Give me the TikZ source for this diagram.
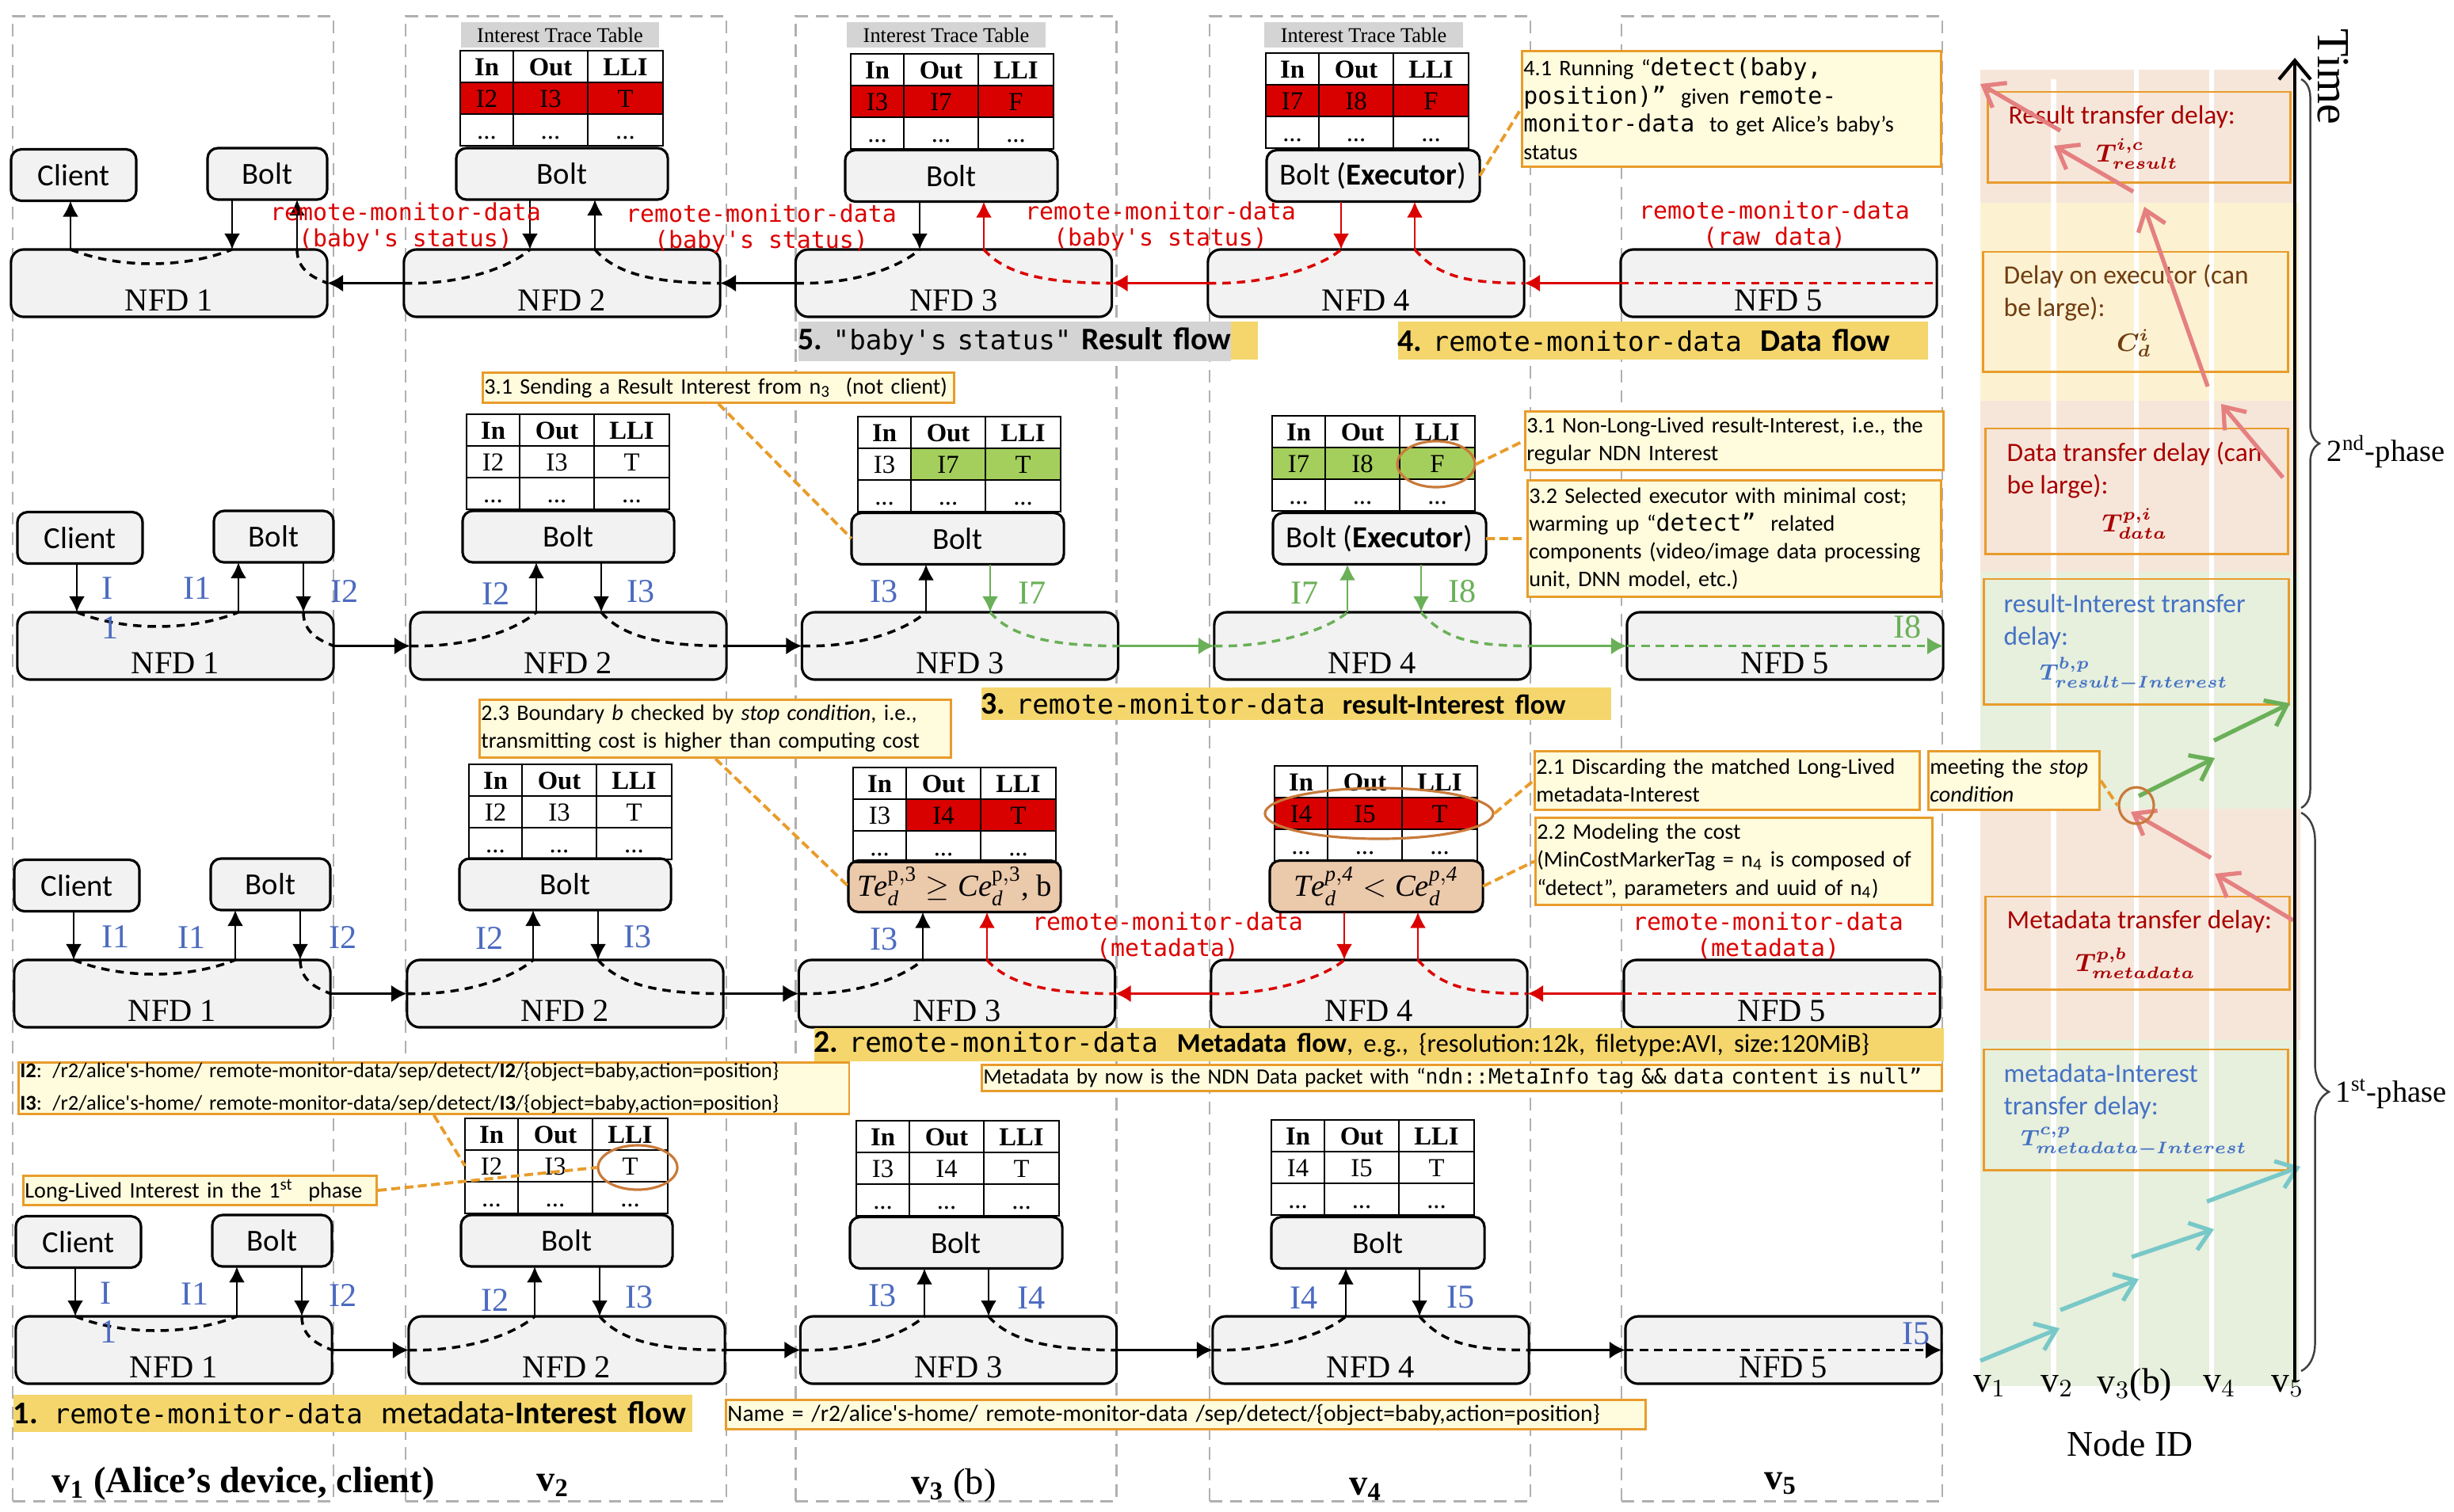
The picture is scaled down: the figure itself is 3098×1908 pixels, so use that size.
\documentclass[tikz,border=0pt]{standalone}
\usepackage{amsmath}
\usepackage{fontspec}
\setmainfont{Liberation Serif}
\setmonofont{DejaVu Sans Mono}
\newfontfamily\calfont{Carlito}
\usetikzlibrary{arrows.meta,shapes.geometric,decorations.pathreplacing}

\definecolor{colgray}{HTML}{B0B0B0}
\definecolor{boxfill}{HTML}{F2F2F2}
\definecolor{notefill}{HTML}{FFFBDD}
\definecolor{noteline}{HTML}{E89C2B}
\definecolor{banner}{HTML}{F4D66C}
\definecolor{grayband}{HTML}{D4D4D4}
\definecolor{cellred}{HTML}{D90000}
\definecolor{cellgreen}{HTML}{A5CF5D}
\definecolor{costbox}{HTML}{EBC9AB}
\definecolor{linkred}{HTML}{DB0000}
\definecolor{linkgreen}{HTML}{6AB058}
\definecolor{labelblue}{HTML}{4C6BC0}
\definecolor{ringline}{HTML}{C87A3A}
\definecolor{bandpink}{HTML}{F6E6DA}
\definecolor{bandyellow}{HTML}{FCF2D2}
\definecolor{bandgreen}{HTML}{E7EFDD}
\definecolor{arrowpink}{HTML}{E58080}
\definecolor{arrowteal}{HTML}{78C8C8}
\definecolor{delayred}{HTML}{A80000}
\definecolor{delaybrown}{HTML}{6F3D12}
\definecolor{delayblue}{HTML}{4472C4}

\newcommand{\bannermono}{\ttfamily\mdseries\fontsize{9.7}{11}\selectfont}
\newcommand{\notemono}{\ttfamily\fontsize{8.5}{10}\selectfont}

\tikzset{
	colbox/.style={draw=colgray,line width=.7pt,dash pattern=on 4.5pt off 2.8pt,minimum width=4.05cm,minimum height=18.74cm},
	nfdbox/.style={draw,fill=boxfill,line width=.9pt,rounded corners=1.6mm,minimum width=3.99cm,minimum height=.85cm,outer sep=0pt},
	nfdtext/.style={font=\fontsize{11.5}{12}\selectfont,yshift=-2.2mm},
	boltbox/.style={draw,fill=boxfill,line width=.9pt,rounded corners=1.3mm,minimum height=.65cm,outer sep=0pt,inner sep=0pt,font=\calfont\fontsize{11}{12}\selectfont},
	costcell/.style={fill=costbox,font=\rmfamily\fontsize{11}{12}\selectfont},
	tcell/.style={draw,line width=.5pt,minimum height=.4cm,inner sep=0pt,text height=.23cm,text depth=0pt,outer sep=0pt,font=\fontsize{9.3}{10}\selectfont},
	ittcaption/.style={fill=grayband,minimum width=2.5cm,minimum height=.32cm,inner sep=0pt,font=\fontsize{7.5}{8}\selectfont},
	vlink/.style={line width=.8pt},
	godown/.style={-{Latex[length=2mm,width=2mm]}},
	goup/.style={{Latex[length=2mm,width=2mm]}-},
	hlink/.style={line width=1.1pt,-{Latex[length=2mm,width=2.2mm]}},
	hopdash/.style={line width=1pt,dash pattern=on 3pt off 2.2pt},
	ilabel/.style={text=labelblue,inner sep=0pt,font=\fontsize{12}{13}\selectfont},
	glabel/.style={text=linkgreen,inner sep=0pt,font=\fontsize{12}{13}\selectfont},
	redmono/.style={text=linkred,inner sep=0pt,align=center,font=\ttfamily\fontsize{8.5}{9.4}\selectfont},
	note/.style={draw=noteline,fill=notefill,line width=.8pt,anchor=north west,inner sep=0pt,inner xsep=.2mm,align=left,font=\calfont\fontsize{8}{10}\selectfont},
	notesize/.style 2 args={minimum width=#1cm,minimum height=#2cm,text width=#1cm-.4mm},
	noteconn/.style={draw=noteline,line width=1.1pt,dash pattern=on 3.2pt off 1.6pt},
	ring/.style={draw=ringline,line width=.9pt,ellipse,inner sep=0pt},
	bannerbox/.style={fill=banner,anchor=north west,inner sep=0pt,align=left,font=\calfont\bfseries\fontsize{11.3}{12}\selectfont},
	bannersize/.style 2 args={minimum width=#1cm,minimum height=#2cm,text width=#1cm},
	delaybox/.style={draw=noteline,line width=.7pt,anchor=north west},
	delaytext/.style={anchor=west,inner sep=0pt,align=left,font=\calfont\fontsize{9.5}{11.7}\selectfont},
	delayform/.style={inner sep=0pt,font=\fontsize{9}{10}\selectfont},
	panelarrow/.style={line width=1.5pt,-{Straight Barb[length=2.4mm,width=3.6mm]}},
	axislabel/.style={inner sep=0pt,font=\fontsize{13}{14}\selectfont},
	collabel/.style={inner sep=0pt,font=\bfseries\fontsize{13.2}{14}\selectfont},
	phasebrace/.style={draw=black!75,line width=.7pt,decorate},
}

% one table: name, corner, three entries, three fills
\newcommand{\ittable}[9]{
	\begin{scope}[shift={(#2,#3)},name prefix=#1-]
		\node[tcell,minimum width=.67cm,font=\bfseries\fontsize{9.3}{10}\selectfont] (in) at (33.5,20) {In};
		\node[tcell,minimum width=.94cm,font=\bfseries\fontsize{9.3}{10}\selectfont] (out) at (114,20) {Out};
		\node[tcell,minimum width=.95cm,font=\bfseries\fontsize{9.3}{10}\selectfont] (lli) at (208.5,20) {LLI};
		\node[tcell,minimum width=.67cm,fill=#7] (a) at (33.5,60) {#4};
		\node[tcell,minimum width=.94cm,fill=#8] (b) at (114,60) {#5};
		\node[tcell,minimum width=.95cm,fill=#9] (c) at (208.5,60) {#6};
		\node[tcell,minimum width=.67cm] (da) at (33.5,100) {...};
		\node[tcell,minimum width=.94cm] (db) at (114,100) {...};
		\node[tcell,minimum width=.95cm] (dc) at (208.5,100) {...};
	\end{scope}
}

% one row of boxes, the links of the row come in as last argument
\newcommand{\flowrow}[8]{
	\begin{scope}[shift={(#2,#3)},name prefix=#1-]
		\coordinate (a1) at (89,0);
		\coordinate (a2) at (293,0);
		\coordinate (a3) at (375,0);
		\coordinate (b1) at (669,0);
		\coordinate (b2) at (751,0);
		\coordinate (c1) at (1161,0);
		\coordinate (c2) at (1242,0);
		\coordinate (d1) at (1693,0);
		\coordinate (d2) at (1786,0);
		\node[nfdbox,label={[nfdtext]center:NFD 1}] (nfd1) at (213.5,357.5) {};
		\node[nfdbox,label={[nfdtext]center:NFD 2}] (nfd2) at (709.5,357.5) {};
		\node[nfdbox,label={[nfdtext]center:NFD 3}] (nfd3) at (1204,357.5) {};
		\node[nfdbox,label={[nfdtext]center:NFD 4}] (nfd4) at (1724.5,357.5) {};
		\node[nfdbox,label={[nfdtext]center:NFD 5}] (nfd5) at (2245.5,357.5) {};
		\node[boltbox,minimum width=1.58cm] (client) at (93,221) {Client};
		\node[boltbox,minimum width=1.51cm] (bolt1) at (337.5,219.5) {Bolt};
		\node[boltbox,minimum width=2.67cm] (bolt2) at (709.5,219.5) {Bolt};
		\node[boltbox,minimum width=2.68cm,#4] (bolt3) at (1201,222) {#5};
		\node[boltbox,minimum width=2.69cm,#6] (bolt4) at (1733.5,222) {#7};
		#8
	\end{scope}
}
\newcommand{\vlinkto}[4]{\draw[vlink,#1] (#2.south -| #4) -- (#3.north -| #4);}
\newcommand{\curvein}[3]{\draw[hopdash,#1] (#2.west) .. controls +(75,2) and +(-25,22) .. (#2.north -| #3);}
\newcommand{\curveout}[3]{\draw[hopdash,#1] (#2.north -| #3) .. controls +(30,35) and +(-70,0) .. (#2.east);}
\newcommand{\curvesleft}{
	\draw[hopdash] (nfd1.north -| a1) .. controls +(60,24) and +(-60,24) .. (nfd1.north -| a2);
	\draw[hopdash] (nfd1.north -| a3) .. controls +(0,28) and +(-14,-6) .. (nfd1.east);
	\curvein{black}{nfd2}{b1}
	\curveout{black}{nfd2}{b2}
	\curvein{black}{nfd3}{c1}
}

\begin{document}
\begin{tikzpicture}[x=0.01cm,y=-0.01cm]
	\useasboundingbox (0,0) rectangle (3098,1908);

	% node columns
	\node[colbox] (col1) at (218.5,958) {};
	\node[colbox] (col2) at (714.5,958) {};
	\node[colbox] (col3) at (1207,958) {};
	\node[colbox] (col4) at (1729.5,958) {};
	\node[colbox] (col5) at (2249.5,958) {};

	% result flow
	\flowrow{r5}{0}{0}{}{Bolt}{}{Bolt (\textbf{Executor})}{
		\vlinkto{goup}{client}{nfd1}{a1}
		\vlinkto{godown}{bolt1}{nfd1}{a2}
		\vlinkto{goup}{bolt1}{nfd1}{a3}
		\vlinkto{godown}{bolt2}{nfd2}{b1}
		\vlinkto{goup}{bolt2}{nfd2}{b2}
		\vlinkto{godown}{bolt3}{nfd3}{c1}
		\vlinkto{goup,linkred}{bolt3}{nfd3}{c2}
		\vlinkto{godown,linkred}{bolt4}{nfd4}{d1}
		\vlinkto{goup,linkred}{bolt4}{nfd4}{d2}
		\curvesleft
		\curveout{linkred}{nfd3}{c2}
		\curvein{linkred}{nfd4}{d1}
		\curveout{linkred}{nfd4}{d2}
		\draw[hopdash,linkred] (nfd5.west) -- (nfd5.east);
		\draw[hlink] (nfd2.west) -- (nfd1.east);
		\draw[hlink] (nfd3.west) -- (nfd2.east);
		\draw[hlink,linkred] (nfd4.west) -- (nfd3.east);
		\draw[hlink,linkred] (nfd5.west) -- (nfd4.east);
	}
	% result interest flow
	\flowrow{r4}{8}{458}{}{Bolt}{}{Bolt (\textbf{Executor})}{
		\vlinkto{godown}{client}{nfd1}{a1}
		\vlinkto{goup}{bolt1}{nfd1}{a2}
		\vlinkto{godown}{bolt1}{nfd1}{a3}
		\vlinkto{goup}{bolt2}{nfd2}{b1}
		\vlinkto{godown}{bolt2}{nfd2}{b2}
		\vlinkto{goup}{bolt3}{nfd3}{c1}
		\vlinkto{godown,linkgreen}{bolt3}{nfd3}{c2}
		\vlinkto{goup,linkgreen}{bolt4}{nfd4}{d1}
		\vlinkto{godown,linkgreen}{bolt4}{nfd4}{d2}
		\curvesleft
		\curveout{linkgreen}{nfd3}{c2}
		\curvein{linkgreen}{nfd4}{d1}
		\curveout{linkgreen}{nfd4}{d2}
		\draw[hopdash,linkgreen,-{Latex[length=2mm,width=2.2mm]}] (nfd5.west) -- (nfd5.east);
		\draw[hlink] (nfd1.east) -- (nfd2.west);
		\draw[hlink] (nfd2.east) -- (nfd3.west);
		\draw[hlink,linkgreen] (nfd3.east) -- (nfd4.west);
		\draw[hlink,linkgreen] (nfd4.east) -- (nfd5.west);
	}
	% metadata flow
	\flowrow{r3}{4}{897}{costcell}{$\mathit{Te}_{\mathit{d}}^{\mathrm{p,3}}\geq\mathit{Ce}_{\mathit{d}}^{\mathrm{p,3}}$, b}{costcell}{$\mathit{Te}_{\mathit{d}}^{\mathit{p,4}}<\mathit{Ce}_{\mathit{d}}^{\mathit{p,4}}$}{
		\vlinkto{godown}{client}{nfd1}{a1}
		\vlinkto{goup}{bolt1}{nfd1}{a2}
		\vlinkto{godown}{bolt1}{nfd1}{a3}
		\vlinkto{goup}{bolt2}{nfd2}{b1}
		\vlinkto{godown}{bolt2}{nfd2}{b2}
		\vlinkto{goup}{bolt3}{nfd3}{c1}
		\vlinkto{goup,linkred}{bolt3}{nfd3}{c2}
		\vlinkto{godown,linkred}{bolt4}{nfd4}{d1}
		\vlinkto{goup,linkred}{bolt4}{nfd4}{d2}
		\curvesleft
		\curveout{linkred}{nfd3}{c2}
		\curvein{linkred}{nfd4}{d1}
		\curveout{linkred}{nfd4}{d2}
		\draw[hopdash,linkred] (nfd5.west) -- (nfd5.east);
		\draw[hlink] (nfd1.east) -- (nfd2.west);
		\draw[hlink] (nfd2.east) -- (nfd3.west);
		\draw[hlink,linkred] (nfd4.west) -- (nfd3.east);
		\draw[hlink,linkred] (nfd5.west) -- (nfd4.east);
	}
	% metadata interest flow
	\flowrow{r1}{6}{1347}{}{Bolt}{}{Bolt}{
		\vlinkto{godown}{client}{nfd1}{a1}
		\vlinkto{goup}{bolt1}{nfd1}{a2}
		\vlinkto{godown}{bolt1}{nfd1}{a3}
		\vlinkto{goup}{bolt2}{nfd2}{b1}
		\vlinkto{godown}{bolt2}{nfd2}{b2}
		\vlinkto{goup}{bolt3}{nfd3}{c1}
		\vlinkto{godown}{bolt3}{nfd3}{c2}
		\vlinkto{goup}{bolt4}{nfd4}{d1}
		\vlinkto{godown}{bolt4}{nfd4}{d2}
		\curvesleft
		\curveout{black}{nfd3}{c2}
		\curvein{black}{nfd4}{d1}
		\curveout{black}{nfd4}{d2}
		\draw[hopdash,-{Latex[length=2mm,width=2.2mm]}] (nfd5.west) -- (nfd5.east);
		\draw[hlink] (nfd1.east) -- (nfd2.west);
		\draw[hlink] (nfd2.east) -- (nfd3.west);
		\draw[hlink] (nfd3.east) -- (nfd4.west);
		\draw[hlink] (nfd4.east) -- (nfd5.west);
	}

	% tables
	\node[ittcaption] (cap2) at (707,44) {Interest Trace Table};
	\node[ittcaption] (cap3) at (1194.5,44) {Interest Trace Table};
	\node[ittcaption] (cap4) at (1721.5,44) {Interest Trace Table};
	\ittable{t52}{581}{64}{I2}{I3}{T}{cellred}{cellred}{cellred}
	\ittable{t53}{1074}{68}{I3}{I7}{F}{cellred}{cellred}{cellred}
	\ittable{t54}{1598}{67}{I7}{I8}{F}{cellred}{cellred}{cellred}
	\ittable{t42}{589}{523}{I2}{I3}{T}{white}{white}{white}
	\ittable{t43}{1083}{526}{I3}{I7}{T}{white}{cellgreen}{cellgreen}
	\ittable{t44}{1606}{525}{I7}{I8}{F}{cellgreen}{cellgreen}{cellgreen}
	\ittable{t32}{592}{965}{I2}{I3}{T}{white}{white}{white}
	\ittable{t33}{1077}{969}{I3}{I4}{T}{white}{cellred}{cellred}
	\ittable{t34}{1609}{967}{I4}{I5}{T}{cellred}{cellred}{cellred}
	\ittable{t12}{587}{1412}{I2}{I3}{T}{white}{white}{white}
	\ittable{t13}{1081}{1415}{I3}{I4}{T}{white}{white}{white}
	\ittable{t14}{1605}{1414}{I4}{I5}{T}{white}{white}{white}

	% interest names next to the links
	\foreach \x/\y/\t in {136/743/I,139/793/1,249/743/I1,435/747/I2,626/750/I2,809/747/I3,1116/747/I3,146/1183/I1,242/1184/I1,433/1183/I2,618/1184/I2,805/1183/I3,1116/1186/I3,134/1633/I,137/1682/1,246/1634/I1,433/1635/I2,625/1641/I2,807/1638/I3,1114/1636/I3,1302/1639/I4,1646/1639/I4,1844/1638/I5,2419/1684/I5}
		\node[ilabel] (lab\x-\y) at (\x,\y) {\t};
	\foreach \x/\y/\t in {1303/749/I7,1647/749/I7,1846/747/I8,2408/792/I8}
		\node[glabel] (lab\x-\y) at (\x,\y) {\t};
	\node[redmono] (rd1) at (512,287) {remote-monitor-data\\(baby's status)};
	\node[redmono] (rd2) at (961,289) {remote-monitor-data\\(baby's status)};
	\node[redmono] (rd3) at (1465,286) {remote-monitor-data\\(baby's status)};
	\node[redmono] (rd4) at (2240,284) {remote-monitor-data\\(raw data)};
	\node[redmono] (rd5) at (1474,1182) {remote-monitor-data\\(metadata)};
	\node[redmono] (rd6) at (2232,1182) {remote-monitor-data\\(metadata)};

	% flow banners
	\node[bannerbox,bannersize={5.8}{.48}] (ban5b) at (1007,405) {};
	\node[bannerbox,fill=grayband,bannersize={5.46}{.5}] (ban5) at (1007,405) {\mbox{5.\ {\bannermono "baby's status"} Result flow}};
	\node[bannerbox,bannersize={6.69}{.48}] (ban4) at (1764,405) {4.\ {\bannermono remote-monitor-data}\hspace{.24cm}Data flow};
	\node[bannerbox,bannersize={7.95}{.41}] (ban3) at (1238,867) {3.\ {\bannermono remote-monitor-data}\hspace{.22cm}{\fontsize{9.9}{11}\selectfont result-Interest flow}};
	\node[bannerbox,bannersize={14.25}{.42}] (ban2) at (1027,1297) {\frenchspacing 2.\ {\bannermono remote-monitor-data}\hspace{.24cm}{\fontsize{9.7}{11}\selectfont Metadata flow{\mdseries\fontsize{9.3}{11}\selectfont, e.g., \{resolution:12k, filetype:AVI, size:120MiB\}}}};
	\node[bannerbox,bannersize={8.57}{.47},font=\calfont\bfseries\fontsize{11.4}{12}\selectfont] (ban1) at (16,1760) {1. {\bannermono remote-monitor-data}\hspace{.24cm}{\mdseries metadata-}Interest flow};

	% rings
	\node[ring,minimum width=.98cm,minimum height=.58cm] (ringf) at (1813,586) {};
	\node[ring,minimum width=2.88cm,minimum height=.64cm] (ringm) at (1741,1027) {};
	\node[ring,minimum width=1cm,minimum height=.56cm] (ringt) at (805,1474) {};

	% notes
	\node[note,notesize={5.29}{1.46}] (n41) at (1920,63) {4.1 Running “{\notemono detect(baby,\\position)”} \ given {\notemono remote-\\monitor-data} \ to get Alice’s baby’s\\status};
	\node[note,notesize={5.95}{.38}] (n31a) at (608,469) {3.1 Sending a Result Interest from n\textsubscript{3} \ (not client)};
	\node[note,notesize={5.95}{.73}] (n23) at (604,882) {2.3 Boundary \textit{b} checked by \textit{stop condition}, i.e.,\\transmitting cost is higher than computing cost};
	\node[note,notesize={5.28}{.74}] (n31b) at (1924,518) {3.1 Non-Long-Lived result-Interest, i.e., the\\regular NDN Interest};
	\node[note,notesize={5.22}{1.47}] (n32) at (1927,605) {3.2 Selected executor with minimal cost;\\warming up “{\notemono detect”} \ related\\components (video/image data processing\\unit, DNN model, etc.)};
	\node[note,notesize={4.86}{.74}] (n21) at (1936,947) {2.1 Discarding the matched Long-Lived\\metadata-Interest};
	\node[note,notesize={5.01}{1.1}] (n22) at (1937,1031) {2.2 Modeling the cost\\(MinCostMarkerTag = n\textsubscript{4} is composed of\\“detect”, parameters and uuid of n\textsubscript{4})};
	\node[note,notesize={12.11}{.33},font=\calfont\fontsize{7.8}{9}\selectfont] (nmeta) at (1238,1343) {Metadata by now is the NDN Data packet with “{\ttfamily\fontsize{7.5}{9}\selectfont ndn::MetaInfo tag \&\& data content is null”}};
	\node[note,notesize={10.48}{.65},font=\calfont\fontsize{7.55}{11.6}\selectfont] (nnames) at (22,1340) {\textbf{I2}: /r2/alice's-home/ remote-monitor-data/sep/detect/\textbf{I2}/\{object=baby,action=position\}\\\textbf{I3}: /r2/alice's-home/ remote-monitor-data/sep/detect/\textbf{I3}/\{object=baby,action=position\}};
	\node[note,notesize={4.46}{.37}] (nlong) at (28,1483) {Long-Lived Interest in the 1\textsuperscript{st} \ phase};
	\node[note,notesize={11.6}{.37},font=\calfont\fontsize{8.4}{10}\selectfont] (nname) at (915,1766) {Name = /r2/alice's-home/ remote-monitor-data /sep/detect/\{object=baby,action=position\}};

	\draw[noteconn] (r5-bolt4.east) -- (n41.west);
	\draw[noteconn] (n31a.south) -- (r4-bolt3.west);
	\draw[noteconn] (n23.south) -- (r3-bolt3.west);
	\draw[noteconn] (ringf.east) -- (n31b.west);
	\draw[noteconn] (r4-bolt4.east) -- (n32.west);
	\draw[noteconn] (ringm.east) -- (n21.west);
	\draw[noteconn] (r3-bolt4.east) -- (n22.west);
	\draw[noteconn] (nnames.south) -- (t12-a.west);
	\draw[noteconn] (nlong.east) -- (ringt.west);

	% column names
	\node[collabel] (lv1) at (307,1873) {v$_{\mathbf{1}}$ (Alice’s device, client)};
	\node[collabel] (lv2) at (698,1875) {v$_{\mathbf{2}}$};
	\node[collabel] (lv3) at (1204,1875) {v$_{\mathbf{3}}$ {\mdseries (b)}};
	\node[collabel] (lv4) at (1724,1880) {v$_{\mathbf{4}}$};
	\node[collabel] (lv5) at (2248,1873) {v$_{\mathbf{5}}$};

	% time panel
	\fill[bandpink] (2500,88) rectangle (2896,256);
	\fill[bandyellow] (2500,256) rectangle (2902,506);
	\fill[bandpink] (2500,506) rectangle (2902,722);
	\fill[bandgreen] (2500,722) rectangle (2902,1021);
	\fill[bandpink] (2500,1021) rectangle (2904,1313);
	\fill[bandgreen] (2500,1313) rectangle (2902,1750);
	\fill[white] (2589,100) rectangle (2596,1750);
	\fill[white] (2694,88) rectangle (2700,1750);
	\fill[white] (2789,88) rectangle (2795,1750);

	\node[delaybox,minimum width=3.82cm,minimum height=1.14cm] (dresult) at (2508,115) {};
	\node[delaybox,minimum width=3.85cm,minimum height=1.51cm] (dexec) at (2502,317) {};
	\node[delaybox,minimum width=3.82cm,minimum height=1.58cm] (ddata) at (2505,540) {};
	\node[delaybox,minimum width=3.85cm,minimum height=1.58cm] (dint) at (2503,730) {};
	\node[delaybox,minimum width=3.84cm,minimum height=1.17cm] (dmeta) at (2505,1131) {};
	\node[delaybox,minimum width=3.84cm,minimum height=1.52cm] (dmint) at (2503,1324) {};

	\node[delaytext,text=delayred] (tresult) at (2535,148) {Result transfer delay:};
	\node[delayform,text=delayred] (fresult) at (2698,194) {$\boldsymbol{T^{i,c}_{result}}$};
	\node[delaytext,text=delaybrown] (texec) at (2529,370) {Delay on executor (can\\be large):};
	\node[delayform,text=delaybrown] (fexec) at (2694,433) {$\boldsymbol{C^{i}_{d}}$};
	\node[delaytext,text=delayred] (tdata) at (2533,594) {Data transfer delay (can\\be large):};
	\node[delayform,text=delayred] (fdata) at (2695,661) {$\boldsymbol{T^{p,i}_{data}}$};
	\node[delaytext,text=delayblue] (tint) at (2529,785) {result-Interest transfer\\delay:};
	\node[delayform,text=delayblue,font=\fontsize{8.3}{10}\selectfont] (fint) at (2694,851) {$\boldsymbol{T^{b,p}_{result-Interest}}$};
	\node[delaytext,text=delayred] (tmeta) at (2533,1164) {Metadata transfer delay:};
	\node[delayform,text=delayred] (fmeta) at (2696,1216) {$\boldsymbol{T^{p,b}_{metadata}}$};
	\node[delaytext,text=delayblue] (tmint) at (2529,1378) {metadata-Interest\\transfer delay:};
	\node[delayform,text=delayblue,font=\fontsize{8.3}{10}\selectfont] (fmint) at (2694,1442) {$\boldsymbol{T^{c,p}_{metadata-Interest}}$};

	\foreach \xa/\ya/\xb/\yb in {2601/165/2500/106,2693/242/2593/184,2787/488/2707/261,2882/603/2804/510,2791/1083/2690/1025,2895/1162/2796/1103}
		\draw[panelarrow,arrowpink] (\xa,\ya) -- (\xb,\yb);
	\foreach \xa/\ya/\xb/\yb in {2700/1005/2796/957,2795/935/2891/888}
		\draw[panelarrow,linkgreen] (\xa,\ya) -- (\xb,\yb);
	\foreach \xa/\ya/\xb/\yb in {2500/1718/2600/1677,2601/1654/2700/1615,2691/1587/2795/1552,2786/1517/2904/1473}
		\draw[panelarrow,arrowteal] (\xa,\ya) -- (\xb,\yb);

	\node[ring,minimum width=.44cm,minimum height=.46cm] (ringstop) at (2697,1017) {};
	\node[note,notesize={2.16}{.74}] (nstop) at (2433,947) {meeting the \textit{stop}\\\textit{condition}};
	\draw[noteconn] (nstop.east) -- (ringstop.west);

	\draw[line width=1.2pt,-{Straight Barb[length=2.4mm,width=4mm]}] (2897,1745) -- (2897,73);
	\draw[phasebrace,decoration={brace,amplitude=2.3mm}] (2905,100) -- (2905,1020);
	\draw[phasebrace,decoration={brace,amplitude=3.5mm}] (2905,1026) -- (2905,1731);
	\node[inner sep=0pt,rotate=-90,font=\fontsize{16.5}{18}\selectfont] (ltime) at (2945,97) {Time};
	\node[axislabel,anchor=west,font=\fontsize{11}{12}\selectfont] (lphase2) at (2937,570) {2\textsuperscript{nd}-phase};
	\node[axislabel,anchor=west,font=\fontsize{11}{12}\selectfont] (lphase1) at (2948,1381) {1\textsuperscript{st}-phase};
	\node[axislabel] (pv1) at (2512,1750) {$\mathrm{v}_{1}$};
	\node[axislabel] (pv2) at (2597,1750) {$\mathrm{v}_{2}$};
	\node[axislabel] (pv3) at (2695,1748) {$\mathrm{v}_{3}$(b)};
	\node[axislabel] (pv4) at (2802,1750) {$\mathrm{v}_{4}$};
	\node[axislabel] (pv5) at (2888,1750) {$\mathrm{v}_{5}$};
	\node[axislabel] (lnode) at (2689,1823) {Node ID};
\end{tikzpicture}
\end{document}
